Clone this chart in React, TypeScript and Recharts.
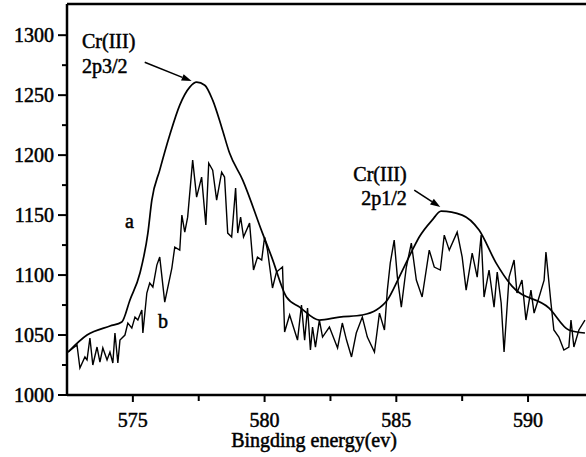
import { LineChart, Line, XAxis, YAxis, ReferenceLine, ReferenceDot } from 'recharts'

// curve a: smoothed envelope
const aEnergy = [
  572.54, 573.26, 574.13, 574.58, 574.89, 575.27, 575.57, 575.72, 576.02, 576.4, 576.78,
  577.16, 577.42, 577.73, 578.03, 578.37, 578.67, 579.17, 579.92, 580.27, 580.83, 581.33, 582.08,
  582.84, 583.71, 584.24, 584.66, 585.11, 585.61, 585.87, 586.36, 586.7, 587.5, 588.14, 588.79,
  589.39, 590.8, 591.55, 592.16,
]
const aCounts = [
  1035.8, 1050, 1057.5, 1060.8, 1079.2, 1101.7, 1135, 1162.5, 1187.5, 1216.7, 1241.7,
  1256.7, 1260.8, 1258.3, 1245.8, 1223.3, 1201.7, 1179.2, 1135, 1115, 1081.7, 1073.3, 1062.5,
  1065, 1066.7, 1070.8, 1079.2, 1098.3, 1120.8, 1131.7, 1145.8, 1153.3, 1150, 1137.5, 1110,
  1090.8, 1072.5, 1054.2, 1051.7,
]

// curve b: raw spectrum
const bEnergy = [
  572.54, 572.88, 572.99, 573.18, 573.26, 573.37, 573.48, 573.64, 573.75, 573.86, 574.02, 574.13,
  574.24, 574.32, 574.43, 574.51, 574.7, 574.81, 574.96, 575.08, 575.19, 575.34, 575.38, 575.53,
  575.64, 575.76, 575.91, 576.02, 576.21, 576.48, 576.59, 576.78, 576.86, 576.97, 577.08, 577.27,
  577.42, 577.61, 577.77, 577.88, 578.03, 578.18, 578.37, 578.48, 578.6, 578.75, 578.9, 578.98,
  579.09, 579.2, 579.43, 579.58, 579.73, 579.89, 580.0, 580.11, 580.3, 580.45, 580.68, 580.76,
  580.95, 581.25, 581.4, 581.52, 581.63, 581.74, 581.82, 581.93, 582.08, 582.2, 582.46, 582.77,
  582.95, 583.11, 583.3, 583.48, 583.71, 583.9, 584.17, 584.36, 584.55, 584.66, 584.77, 584.92,
  585.04, 585.19, 585.38, 585.57, 585.76, 585.98, 586.25, 586.44, 586.67, 586.82, 587.01, 587.31,
  587.5, 587.65, 587.88, 588.07, 588.22, 588.33, 588.52, 588.71, 588.83, 588.98, 589.09, 589.28,
  589.47, 589.58, 589.77, 589.92, 590.11, 590.23, 590.42, 590.61, 590.68, 590.87, 590.98, 591.17,
  591.36, 591.55, 591.63, 591.74, 591.93, 592.16,
]
const bCounts = [
  1035.8, 1041.7, 1022.5, 1031.7, 1029.2, 1047.5, 1025, 1040, 1027.5, 1039.2, 1029.2, 1035.8,
  1026.7, 1051.7, 1026.7, 1045.8, 1050, 1060, 1055.8, 1065, 1062.5, 1070.8, 1051.7, 1085,
  1093.3, 1090, 1108.3, 1115, 1077.5, 1105.8, 1123.3, 1120.8, 1150, 1135.8, 1148.3, 1195.8,
  1165, 1181.7, 1141.7, 1193.3, 1187.5, 1162.5, 1185.8, 1181.7, 1135, 1131.7, 1172.5, 1135,
  1148.3, 1131.7, 1143.3, 1104.2, 1115, 1112.5, 1131.7, 1120.8, 1089.2, 1102.5, 1106.7, 1052.5,
  1066.7, 1045.8, 1075, 1045.8, 1072.5, 1037.5, 1056.7, 1040, 1062.5, 1048.3, 1056.7, 1039.2,
  1060, 1045.8, 1031.7, 1051.7, 1065, 1048.3, 1035.8, 1068.3, 1054.2, 1087.5, 1110, 1129.2,
  1098.3, 1073.3, 1106.7, 1126.7, 1095.8, 1081.7, 1120.8, 1106.7, 1104.2, 1133.3, 1120.8, 1135.8,
  1115, 1087.5, 1118.3, 1098.3, 1133.3, 1081.7, 1104.2, 1073.3, 1102.5, 1076.7, 1035.8, 1098.3,
  1112.5, 1085, 1095.8, 1062.5, 1087.5, 1068.3, 1081.7, 1095.8, 1119.2, 1076.7, 1054.2, 1048.3,
  1037.5, 1040, 1062.5, 1040, 1054.2, 1062.5,
]

const xTicks = [575, 577.5, 580, 582.5, 585, 587.5, 590]
const yTicks = [1000, 1025, 1050, 1075, 1100, 1125, 1150, 1175, 1200, 1225, 1250, 1275, 1300]
const X_MIN = 572.5
const X_MAX = 592.2
const Y_MIN = 1000
const Y_MAX = 1326

const aData = aEnergy.map((e, i) => ({ energy: e, counts: aCounts[i] }))
const bData = bEnergy.map((e, i) => ({ energy: e, counts: bCounts[i] }))

// scanned look: regular serif with a thin outline to thicken strokes
const txt = {
  fontFamily: '"Liberation Serif", "Times New Roman", serif',
  fontSize: 20,
  fill: '#000',
  stroke: '#000',
  strokeWidth: 0.5,
}

// text annotations, anchored in data coordinates (left / baseline)
const notes = [
  { x: 573.07, y: 1289.2, text: 'Cr(III)' },
  { x: 573.07, y: 1268.3, text: '2p3/2' },
  { x: 583.37, y: 1178.3, text: 'Cr(III)' },
  { x: 583.67, y: 1158.3, text: '2p1/2' },
  { x: 574.7, y: 1139.2, text: 'a' },
  { x: 575.95, y: 1055.8, text: 'b' },
]
const arrows = [
  [{ x: 575.45, y: 1277.5 }, { x: 577.23, y: 1261.7 }],
  [{ x: 585.68, y: 1170.8 }, { x: 586.67, y: 1156.7 }],
]

const YTick = (props: any) => {
  const { x, y, payload } = props
  const major = payload.value % 50 === 0
  return (
    <g>
      <line x1={x - (major ? 9 : 5)} x2={x} y1={y} y2={y} stroke="#000" strokeWidth={2} />
      {major && (
        <text x={x - 13} y={y + 7} textAnchor="end" style={txt}>
          {payload.value}
        </text>
      )}
    </g>
  )
}

const XTick = (props: any) => {
  const { x, y, payload } = props
  const major = payload.value % 5 === 0
  return (
    <g>
      <line x1={x} x2={x} y1={y} y2={y + (major ? 7 : 6)} stroke="#000" strokeWidth={2} />
      {major && (
        <text x={x} y={y + 32} textAnchor="middle" style={txt}>
          {payload.value}
        </text>
      )}
    </g>
  )
}

const Arrow = (props: any) => {
  const { x1, y1, x2, y2 } = props
  const ang = Math.atan2(y2 - y1, x2 - x1)
  const len = 10
  const w = 3.5
  const bx = x2 - len * Math.cos(ang)
  const by = y2 - len * Math.sin(ang)
  const px = -Math.sin(ang) * w
  const py = Math.cos(ang) * w
  return (
    <g>
      <line x1={x1} y1={y1} x2={bx} y2={by} stroke="#000" strokeWidth={1.6} />
      <polygon points={`${x2},${y2} ${bx + px},${by + py} ${bx - px},${by - py}`} fill="#000" />
    </g>
  )
}

export default function App() {
  return (
    <div style={{ position: 'absolute', left: 0, top: 0, width: 586, height: 457, background: '#fff' }}>
      <LineChart width={586} height={457} margin={{ top: 4, right: 0, bottom: 0, left: 0 }}>
        <XAxis
          type="number"
          dataKey="energy"
          domain={[X_MIN, X_MAX]}
          allowDataOverflow
          ticks={xTicks}
          tick={<XTick />}
          tickSize={0}
          tickMargin={0}
          tickLine={false}
          height={62}
          axisLine={{ stroke: '#000', strokeWidth: 2.5 }}
          label={{
            content: (p: any) => (
              <text x={p.viewBox.x + 247} y={p.viewBox.y + 52} textAnchor="middle" style={txt}>
                Bingding energy(ev)
              </text>
            ),
          }}
        />
        <YAxis
          type="number"
          dataKey="counts"
          domain={[Y_MIN, Y_MAX]}
          allowDataOverflow
          ticks={yTicks}
          tick={<YTick />}
          tickSize={0}
          tickMargin={0}
          tickLine={false}
          width={67}
          axisLine={{ stroke: '#000', strokeWidth: 2.5 }}
        />
        <ReferenceLine y={Y_MAX} stroke="#000" strokeWidth={2.5} />
        <Line
          data={aData}
          dataKey="counts"
          type="monotone"
          stroke="#000"
          strokeWidth={1.7}
          dot={false}
          isAnimationActive={false}
        />
        <Line
          data={bData}
          dataKey="counts"
          type="linear"
          stroke="#000"
          strokeWidth={1.4}
          dot={false}
          isAnimationActive={false}
        />
        {arrows.map((seg, i) => (
          <ReferenceLine key={'ar' + i} segment={seg} shape={<Arrow />} />
        ))}
        {notes.map((n, i) => (
          <ReferenceDot
            key={'n' + i}
            x={n.x}
            y={n.y}
            r={0}
            shape={(p: any) => (
              <text x={p.cx} y={p.cy} style={txt}>
                {n.text}
              </text>
            )}
          />
        ))}
      </LineChart>
    </div>
  )
}
